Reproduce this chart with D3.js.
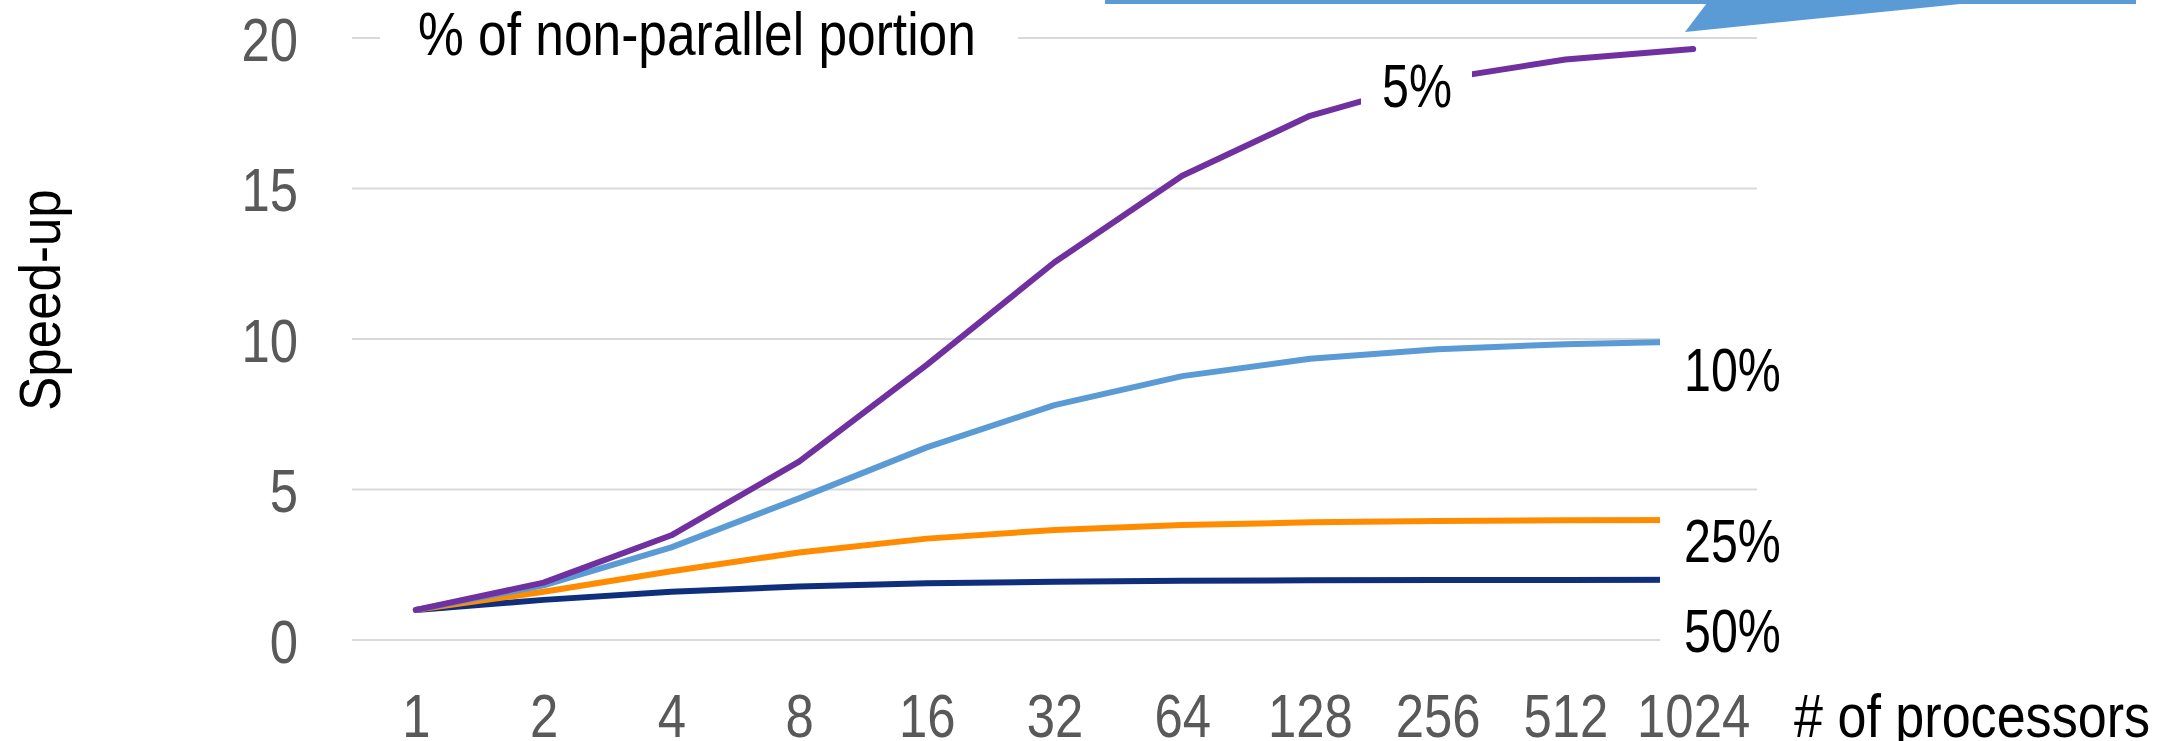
<!DOCTYPE html>
<html>
<head>
<meta charset="utf-8">
<script src="https://cdn.jsdelivr.net/npm/d3@7/dist/d3.min.js"></script>
<style>
  body { margin: 0; background: #fff; }
  text { font-family: "Liberation Sans", Arial, sans-serif; }
</style>
</head>
<body>
<svg id="chart" width="2167" height="741"></svg>
<script>
// --- Data ---
const processors = ["1", "2", "4", "8", "16", "32", "64", "128", "256", "512", "1024"];
const speedup5  = [1, 1.905, 3.478, 5.926, 9.143, 12.549, 15.422, 17.415, 18.618, 19.284, 19.636];
const speedup10 = [1, 1.818, 3.077, 4.706, 6.4, 7.805, 8.767, 9.343, 9.660, 9.827, 9.913];
const speedup25 = [1, 1.6, 2.286, 2.909, 3.368, 3.657, 3.821, 3.908, 3.954, 3.977, 3.988];
const speedup50 = [1, 1.333, 1.6, 1.778, 1.882, 1.939, 1.969, 1.984, 1.992, 1.996, 1.998];
const yTicks = [0, 5, 10, 15, 20];

const series = [
  { name: "50%", values: speedup50, color: "#0f2f7c" },
  { name: "25%", values: speedup25, color: "#ff8c00" },
  { name: "10%", values: speedup10, color: "#5b9bd5" },
  { name: "5%",  values: speedup5,  color: "#7030a0" }
];

// --- Setup ---
const svg = d3.select("#chart");
const plotLeft = 352, plotRight = 1757, plotTop = 38, plotBottom = 640;
const fontSize = 62;

const x = d3.scalePoint().domain(processors).range([plotLeft, plotRight]).padding(0.5);
const y = d3.scaleLinear().domain([0, 20]).range([plotBottom, plotTop]);

// squeeze text a bit, the source font is narrow
function squeeze(sel, k) {
  sel.each(function() {
    const w = this.getComputedTextLength();
    this.setAttribute("textLength", w * k);
    this.setAttribute("lengthAdjust", "spacingAndGlyphs");
  });
}

// --- Gridlines ---
svg.append("g")
  .selectAll("line")
  .data(yTicks)
  .enter()
  .append("line")
  .attr("x1", plotLeft)
  .attr("x2", plotRight)
  .attr("y1", d => y(d))
  .attr("y2", d => y(d))
  .attr("stroke", "#d9d9d9")
  .attr("stroke-width", 2);

// --- Axes ---
const yAxis = svg.append("g")
  .attr("transform", `translate(298,0)`)
  .call(d3.axisLeft(y).tickValues(yTicks).tickSize(0).tickPadding(0));
yAxis.select(".domain").remove();
yAxis.selectAll("text")
  .attr("font-family", "Liberation Sans, Arial, sans-serif")
  .attr("font-size", fontSize)
  .attr("fill", "#595959")
  .attr("dy", "0.36em")
  .call(squeeze, 0.82);

const xAxis = svg.append("g")
  .attr("transform", `translate(0,737)`)
  .call(d3.axisBottom(x).tickSize(0).tickPadding(0));
xAxis.select(".domain").remove();
xAxis.selectAll("text")
  .attr("font-family", "Liberation Sans, Arial, sans-serif")
  .attr("font-size", fontSize)
  .attr("fill", "#595959")
  .attr("dy", 0)
  .call(squeeze, 0.82);

// --- Lines ---
const line = d3.line()
  .x((d, i) => x(processors[i]))
  .y(d => y(d));

svg.append("g")
  .selectAll("path")
  .data(series)
  .enter()
  .append("path")
  .attr("d", d => line(d.values))
  .attr("fill", "none")
  .attr("stroke", d => d.color)
  .attr("stroke-width", 6)
  .attr("stroke-linejoin", "round")
  .attr("stroke-linecap", "round");

// --- Label boxes (white, they hide what is behind) ---
const boxes = [
  [380, 0, 638, 80],
  [1361, 58, 111, 62],
  [1660, 333, 140, 65],
  [1660, 495, 140, 93],
  [1660, 600, 140, 62]
];
svg.append("g")
  .selectAll("rect")
  .data(boxes)
  .enter()
  .append("rect")
  .attr("x", d => d[0])
  .attr("y", d => d[1])
  .attr("width", d => d[2])
  .attr("height", d => d[3])
  .attr("fill", "#fff");

// --- Series labels ---
const labelPos = { "5%": [1382, 107], "10%": [1684, 391], "25%": [1684, 562], "50%": [1684, 652] };
svg.append("g")
  .selectAll("text")
  .data(series)
  .enter()
  .append("text")
  .attr("x", d => labelPos[d.name][0])
  .attr("y", d => labelPos[d.name][1])
  .attr("font-size", fontSize)
  .attr("fill", "#000")
  .text(d => d.name)
  .call(squeeze, 0.78);

// --- Titles ---
svg.append("text")
  .attr("x", 418)
  .attr("y", 55)
  .attr("font-size", fontSize)
  .attr("fill", "#000")
  .text("% of non-parallel portion")
  .call(squeeze, 0.83);

svg.append("text")
  .attr("x", 1794)
  .attr("y", 737)
  .attr("font-size", fontSize)
  .attr("fill", "#000")
  .text("# of processors")
  .call(squeeze, 0.84);

svg.append("text")
  .attr("transform", "translate(60,300) rotate(-90)")
  .attr("text-anchor", "middle")
  .attr("font-size", 58)
  .attr("fill", "#000")
  .text("Speed-up")
  .call(squeeze, 0.88);

// --- Callout banner at the top ---
const banner = svg.append("g").attr("fill", "#5b9bd5");
banner.append("rect")
  .attr("x", 1105)
  .attr("y", -10)
  .attr("width", 1031)
  .attr("height", 14);
banner.append("polygon")
  .attr("points", "1707,3 1685,32 1970,3");
</script>
</body>
</html>
